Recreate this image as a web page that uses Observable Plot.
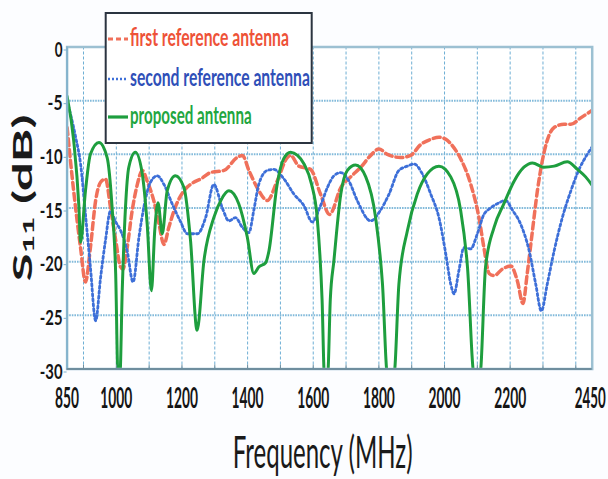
<!DOCTYPE html>
<html><head><meta charset="utf-8">
<script src="https://cdn.jsdelivr.net/npm/d3@7"></script>
<script src="https://cdn.jsdelivr.net/npm/@observablehq/plot@0.6"></script>
<style>
html,body{margin:0;padding:0;background:#fcfdff;}
#chart{position:relative;width:608px;height:479px;overflow:hidden;}
</style></head><body><div id="chart"></div>
<script>
// ---- data ----
const seriesNames = ["first reference antenna", "second reference antenna", "proposed antenna"];
const firstF  = [850,870,891,906,921,937,952,967,982,998,1013,1020,1033,1048,1064,1079,1094,1114,1130,1145,1160,1180,1206,1236,1257,1287,1328,1368,1384,1404,1429,1460,1490,1521,1531,1556,1592,1622,1650,1684,1714,1745,1775,1800,1826,1866,1897,1927,1958,1983,2004,2029,2049,2080,2105,2120,2136,2151,2176,2202,2222,2239,2252,2268,2283,2298,2313,2334,2364,2385,2415,2440,2450];
const firstDB = [-7.5,-13.4,-18.7,-21.9,-18.7,-14.3,-12.6,-12.3,-14.9,-18.0,-20.5,-20.7,-18.7,-15.3,-12.8,-11.5,-12.5,-14.3,-16.5,-18.4,-16.8,-14.9,-13.4,-12.6,-12.3,-11.7,-11.5,-10.3,-10.1,-11.5,-13.1,-14.3,-12.5,-10.3,-10.1,-11.1,-11.4,-13.7,-15.6,-13.1,-12.1,-11.2,-10.1,-9.5,-10.0,-10.3,-10.1,-9.1,-8.6,-8.4,-8.6,-9.4,-10.4,-12.8,-15.9,-18.7,-21.1,-21.3,-20.7,-20.4,-21.8,-23.9,-21.1,-17.1,-13.4,-10.6,-8.7,-7.5,-7.2,-7.2,-6.6,-6.1,-5.9];
const secondF  = [850,876,891,906,921,937,952,967,982,998,1013,1033,1051,1069,1084,1104,1125,1145,1170,1196,1216,1247,1272,1297,1323,1343,1363,1384,1404,1419,1434,1460,1480,1511,1541,1572,1597,1622,1643,1663,1684,1709,1734,1775,1805,1831,1861,1887,1907,1932,1958,1983,2004,2019,2029,2044,2059,2080,2100,2120,2136,2161,2186,2207,2232,2258,2278,2295,2313,2334,2359,2385,2410,2435,2450];
const secondDB = [-5.0,-8.4,-10.9,-15.6,-20.5,-25.5,-21.5,-18.0,-15.3,-16.3,-17.1,-19.0,-21.9,-17.7,-14.9,-12.6,-12.0,-12.8,-14.6,-16.3,-17.4,-17.4,-15.9,-12.8,-15.0,-16.2,-15.9,-16.8,-17.3,-15.2,-12.8,-11.5,-11.4,-12.3,-13.7,-14.8,-16.3,-14.8,-13.1,-12.0,-11.7,-12.5,-14.3,-16.2,-15.2,-13.7,-11.5,-11.1,-10.9,-11.8,-13.7,-15.9,-19.3,-22.1,-23.0,-20.8,-18.7,-18.8,-17.4,-15.6,-15.1,-14.6,-14.3,-15.2,-16.5,-19.0,-22.1,-24.6,-22.1,-19.0,-15.9,-13.4,-11.4,-10.0,-9.3];
const proposedF  = [850,870,886,891,906,921,947,972,987,998,1005,1011,1018,1028,1038,1058,1079,1094,1107,1117,1127,1140,1155,1180,1206,1226,1246,1267,1297,1320,1343,1373,1399,1419,1434,1455,1465,1490,1510,1531,1552,1572,1595,1612,1627,1634,1644,1652,1663,1684,1704,1729,1760,1790,1811,1826,1846,1861,1887,1917,1948,1983,2019,2049,2070,2090,2108,2125,2151,2181,2212,2242,2268,2303,2334,2374,2405,2430,2450];
const proposedDB = [-4.6,-8.7,-14.9,-18.2,-13.4,-10.0,-8.9,-10.3,-14.9,-21.1,-30.5,-30.5,-22.7,-14.9,-11.2,-9.8,-11.8,-16.5,-22.7,-17.1,-14.5,-17.4,-13.4,-12.0,-13.1,-18.0,-26.4,-19.9,-15.9,-14.2,-13.4,-14.6,-17.7,-21.1,-20.5,-20.1,-19.0,-12.8,-10.4,-9.8,-10.1,-10.9,-12.8,-15.9,-23.6,-30.5,-30.5,-23.5,-19.9,-13.7,-11.5,-11.0,-12.1,-15.9,-22.1,-30.5,-30.5,-22.1,-17.1,-13.7,-11.8,-11.1,-12.1,-15.2,-20.5,-30.5,-30.5,-20.5,-16.8,-14.6,-12.5,-11.2,-10.8,-11.2,-11.1,-10.7,-11.4,-12.1,-12.9];
const xTickLabels = [850,1000,1200,1400,1600,1800,2000,2200,2450];
const xGridTicks = [900,1000,1100,1200,1300,1400,1500,1600,1700,1800,1900,2000,2100,2200,2300,2400];
const yTicks = [0,-5,-10,-15,-20,-25,-30];
const xLabel = "Frequency (MHz)";

const colors = ["#f0705a", "#3d6fd8", "#1e9e3e"];
const textColors = ["#ee5238", "#2f4fb8", "#22a640"];

const rows = [];
[[firstF, firstDB], [secondF, secondDB], [proposedF, proposedDB]].forEach(([fs, ds], i) => {
  fs.forEach((f, j) => rows.push({series: seriesNames[i], f, db: ds[j]}));
});

const FONT = "Lato, 'Open Sans', sans-serif";

const plot = Plot.plot({
  width: 608, height: 479,
  marginLeft: 66.6, marginRight: 16.3, marginTop: 46.5, marginBottom: 110.5,
  style: {background: "transparent", fontFamily: FONT, overflow: "visible"},
  x: {domain: [850, 2450], label: null},
  y: {domain: [-30, 0], label: null},
  marks: [
    Plot.frame({fill: "white"}),
    Plot.gridX(xGridTicks, {stroke: "#5ea6cf", strokeOpacity: 0.9, strokeWidth: 1, strokeDasharray: "3,2"}),
    Plot.gridY(yTicks, {stroke: "#74b2d6", strokeOpacity: 0.9, strokeWidth: 2, strokeDasharray: "1.6,1"}),
    Plot.line(rows.filter(d => d.series === seriesNames[0]), {x: "f", y: "db", stroke: colors[0], strokeWidth: 3.5, strokeDasharray: "7,4", curve: "monotone-x", clip: true}),
    Plot.line(rows.filter(d => d.series === seriesNames[1]), {x: "f", y: "db", stroke: colors[1], strokeWidth: 2.8, strokeDasharray: "2.2,2.8", curve: "monotone-x", clip: true}),
    Plot.line(rows.filter(d => d.series === seriesNames[2]), {x: "f", y: "db", stroke: colors[2], strokeWidth: 3, curve: "monotone-x", clip: true}),
    Plot.frame({stroke: "#9cc0d2", strokeWidth: 2.5}),
    Plot.ruleX([850], {stroke: "#7fb0cc", strokeWidth: 1.5}),
    Plot.ruleY([-30], {stroke: "#6f8e9e", strokeWidth: 2}),
    Plot.axisX(xGridTicks, {tickSize: -4, stroke: "#6f8e9e", text: null, label: null}),
    Plot.axisX(xTickLabels, {tickSize: 0, tickPadding: 19.5, fontSize: 28, fontWeight: "bold", fill: "#151515", label: null, tickFormat: d => String(d)}),
    Plot.axisY(yTicks, {tickSize: 3, stroke: "#7fb0cc", tickPadding: 1.5, fontSize: 21, fontWeight: "bold", fill: "#151515", dy: 3, label: null, tickFormat: d => String(d)}),
    Plot.text([xLabel], {frameAnchor: "bottom", dy: 98.5, dx: -7, lineAnchor: "bottom", fontSize: 44, fill: "#1a1a1a", text: d => d})
  ]
});
document.getElementById("chart").appendChild(plot);

const svg = d3.select(plot);
// condense text horizontally (the reference is horizontally squeezed)
function condense(el, targetW) {
  const w = el.getComputedTextLength();
  if (!w) return;
  const s = targetW / w;
  const x = +el.getAttribute("x") || 0, y = +el.getAttribute("y") || 0;
  const t = el.getAttribute("transform") || "";
  el.setAttribute("transform", `${t} translate(${x},${y}) scale(${s},1) translate(${-x},${-y})`);
}
const charW = (s, digit, minus) => [...s].reduce((a, c) => a + (c === "-" || c === "−" ? minus : digit), 0);
svg.selectAll('g[aria-label="x-axis tick label"] text').each(function() {
  const s = this.textContent;
  const last = s === String(xTickLabels[xTickLabels.length - 1]);
  if (last) this.setAttribute("dx", -4);
  condense(this, last ? 31 : charW(s, 8, 7));
});
svg.selectAll('g[aria-label="y-axis tick label"] text').each(function() {
  condense(this, charW(this.textContent, 7.8, 7.2));
});
svg.selectAll('g[aria-label="text"] text').each(function() {
  if (this.textContent === xLabel) condense(this, 180);
});

// y-axis label
const yl = svg.append("text")
  .attr("transform", "translate(32,198) rotate(-90)")
  .attr("text-anchor", "middle")
  .attr("font-family", FONT).attr("font-size", 26).attr("font-weight", "bold").attr("fill", "#1a1a1a")
  .attr("textLength", 167).attr("lengthAdjust", "spacingAndGlyphs");
yl.append("tspan").text("S");
yl.append("tspan").attr("font-size", 16).attr("dy", 2).text("11");
yl.append("tspan").attr("dy", -2).text(" (dB)");

// legend
const lg = svg.append("g").attr("text-anchor", "start");
lg.append("rect").attr("x", 105.7).attr("y", 13).attr("width", 206).attr("height", 130)
  .attr("fill", "white").attr("stroke", "#2b3440").attr("stroke-width", 2);
const legendRows = [
  {y: 39, base: 46, w: 159, dash: "5,3", sw: 3.2},
  {y: 79, base: 86, w: 180, dash: "2,2", sw: 2.6},
  {y: 117, base: 124, w: 121.7, dash: null, sw: 3.2}
];
legendRows.forEach((r, i) => {
  const ln = lg.append("line").attr("x1", 108).attr("x2", 128).attr("y1", r.y).attr("y2", r.y)
    .attr("stroke", colors[i]).attr("stroke-width", r.sw);
  if (r.dash) ln.attr("stroke-dasharray", r.dash);
  const t = lg.append("text").attr("x", 130).attr("y", r.base).attr("text-anchor", "start")
    .attr("font-family", FONT).attr("font-size", 24).attr("font-weight", "bold").attr("fill", textColors[i])
    .text(seriesNames[i]);
  condense(t.node(), r.w);
});
</script></body></html>
